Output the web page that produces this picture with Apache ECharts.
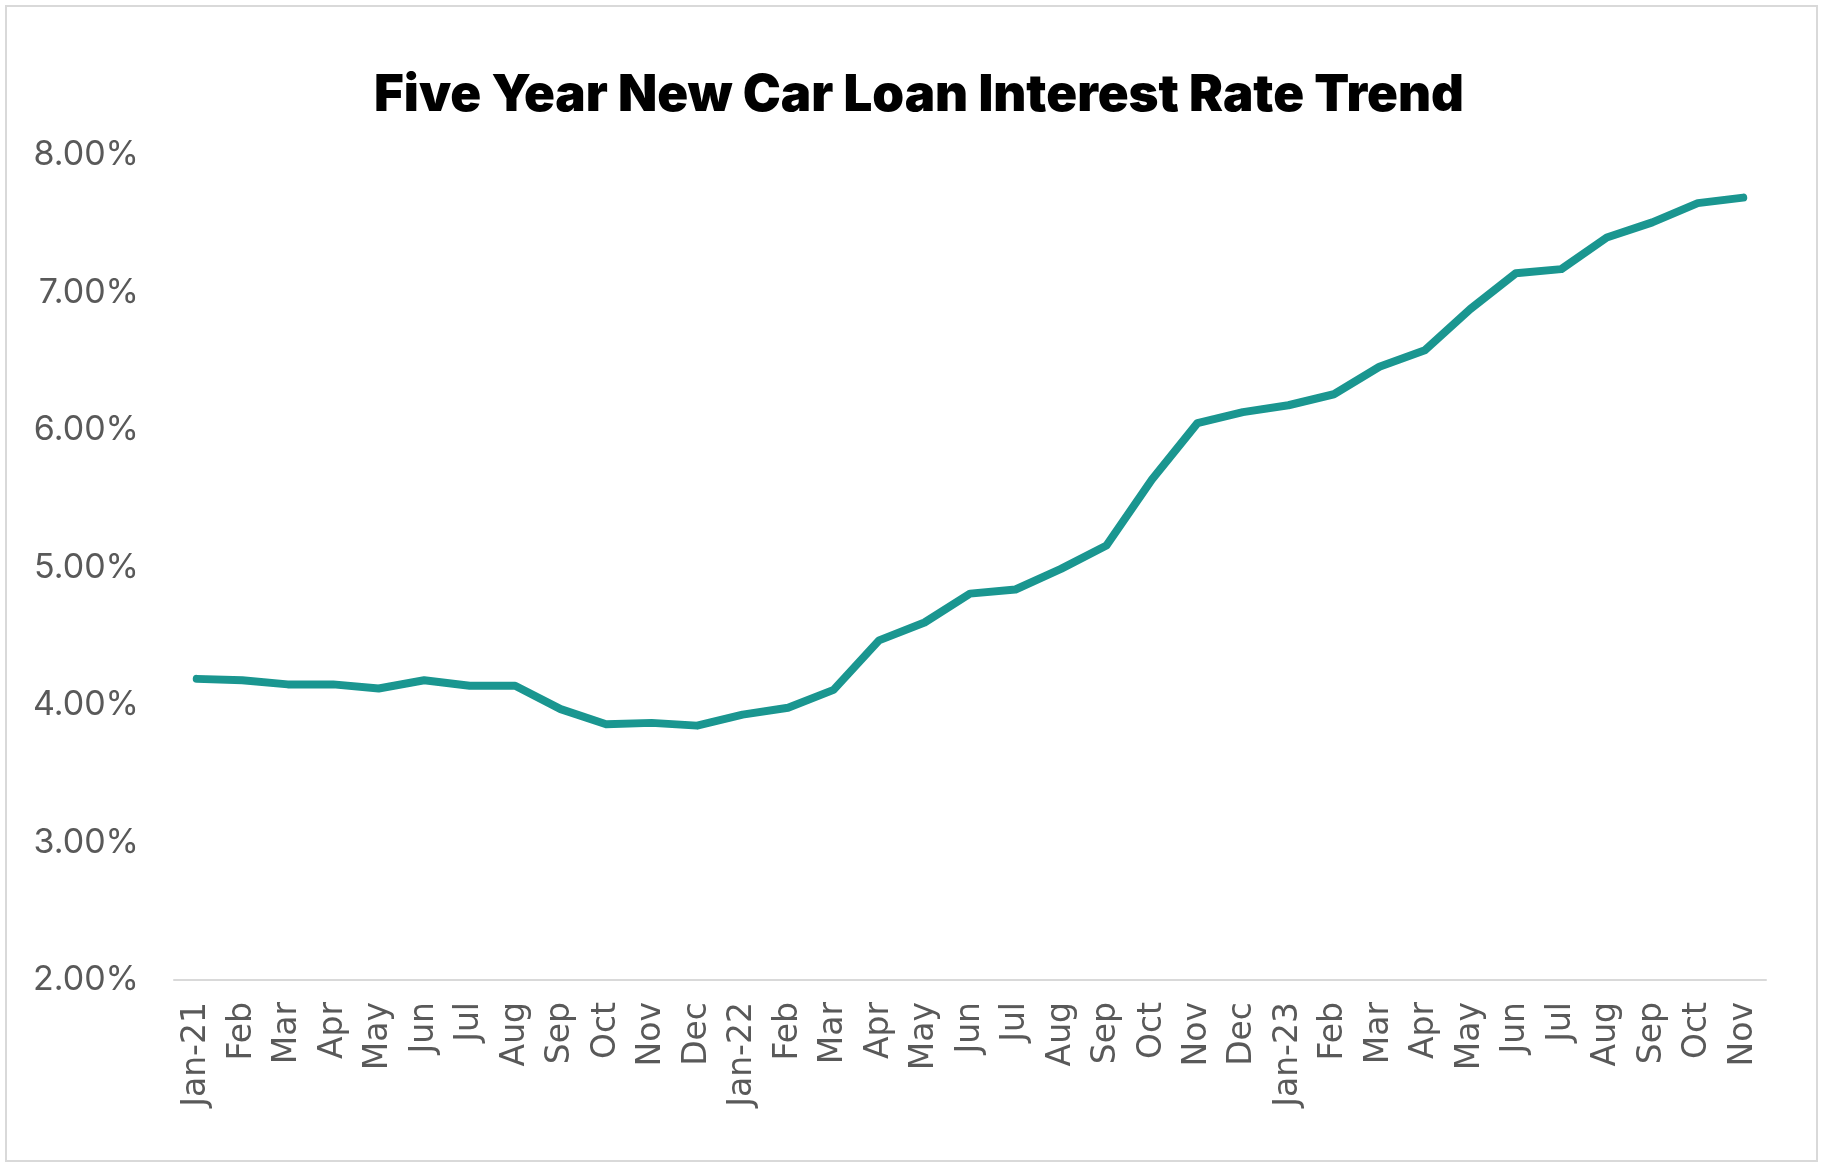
<!DOCTYPE html>
<html>
<head>
<meta charset="utf-8">
<script src="https://cdn.jsdelivr.net/npm/echarts@6/dist/echarts.min.js"></script>
<style>
html,body{margin:0;padding:0;background:#fff;}
#chart{width:1824px;height:1168px;}
</style>
</head>
<body>
<div id="chart"></div>
<script>
var categories = ["Jan-21","Feb","Mar","Apr","May","Jun","Jul","Aug","Sep","Oct","Nov","Dec",
  "Jan-22","Feb","Mar","Apr","May","Jun","Jul","Aug","Sep","Oct","Nov","Dec",
  "Jan-23","Feb","Mar","Apr","May","Jun","Jul","Aug","Sep","Oct","Nov"];
var rates = [4.19,4.18,4.15,4.15,4.12,4.18,4.14,4.14,3.97,3.86,3.87,3.85,
  3.93,3.98,4.11,4.47,4.60,4.81,4.84,4.99,5.16,5.64,6.05,6.13,
  6.18,6.26,6.46,6.58,6.88,7.14,7.17,7.40,7.51,7.65,7.69];
var yMin = 2, yMax = 8, yStep = 1;
var title = "Five Year New Car Loan Interest Rate Trend";

var chart = echarts.init(document.getElementById('chart'), null, {renderer:'canvas'});
chart.setOption({
  backgroundColor:'#fff',
  animation:false,
  graphic:[
    {type:'rect', shape:{x:6,y:6,width:1811,height:1155}, style:{fill:'none', stroke:'#D9D9D9', lineWidth:2}, silent:true},
    {type:'text', x:919, y:96, style:{text:title, textAlign:'center', textVerticalAlign:'middle', fontFamily:'Inter', fontWeight:900, fontSize:51, fill:'#000'}, silent:true}
  ],
  grid:{left:174, right:58, top:155, bottom:188, containLabel:false},
  xAxis:{type:'category', data:categories, boundaryGap:true,
    axisLine:{lineStyle:{color:'#D9D9D9', width:2}}, axisTick:{show:false},
    axisLabel:{rotate:90, interval:0, margin:22, color:'#595959', fontFamily:'DejaVu Sans', fontSize:33}},
  yAxis:{type:'value', min:yMin, max:yMax, interval:yStep, splitLine:{show:false},
    axisLine:{show:false}, axisTick:{show:false},
    axisLabel:{margin:35, color:'#595959', fontFamily:'Inter', fontSize:34, formatter:function(v){return v.toFixed(2)+'%';}}},
  series:[{type:'line', data:rates, showSymbol:false, symbol:'none',
    lineStyle:{color:'#1A9690', width:8, cap:'round', join:'round'}}]
});
</script>
</body>
</html>
